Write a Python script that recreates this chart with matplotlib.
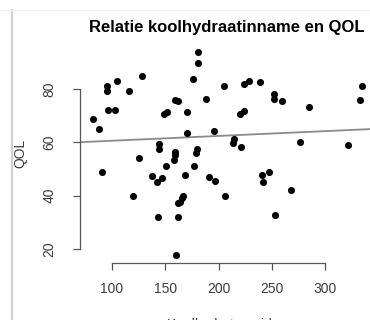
import matplotlib
matplotlib.use('Agg')
import matplotlib.pyplot as plt
import numpy as np

plt.rcParams['font.family'] = ['Liberation Sans', 'DejaVu Sans']

# koolhydraatinname (x) en QOL (y)
kh = [82.4, 88.1, 95.6, 95.6, 104.7, 96.5, 103.1, 90.6, 116.2, 127.9,
      119.9, 125.5, 137.1, 142.7, 147.2, 143.5, 144.4, 144.6, 148.8, 151.6,
      150.7, 158.2, 159.2, 159.2, 159.2, 162.3, 162.0, 163.4, 165.4, 166.9,
      162.0, 160.1, 168.8, 170.4, 170.4, 175.8, 180.5, 180.5, 177.3, 180.1,
      178.6, 188.7, 191.4, 197.0, 196.1, 206.1, 205.2, 213.6, 214.6, 220.2,
      223.5, 221.1, 224.2, 228.6, 238.7, 240.4, 241.8, 247.0, 252.8, 252.1,
      251.8, 259.6, 268.5, 276.5, 285.0, 321.9, 332.4, 335.0]
qol = [68.6, 64.9, 81.0, 79.3, 83.0, 72.3, 72.3, 48.7, 79.1, 84.9,
       39.7, 54.3, 47.4, 45.1, 46.6, 31.9, 59.3, 57.5, 70.5, 71.2,
       51.3, 53.2, 56.3, 55.3, 75.9, 75.5, 37.1, 37.7, 39.1, 40.0,
       32.1, 17.9, 47.6, 71.5, 63.6, 83.7, 93.8, 89.6, 51.1, 57.5,
       55.9, 76.4, 47.0, 45.6, 64.3, 39.9, 81.2, 59.9, 61.1, 70.8,
       71.6, 58.3, 81.8, 83.0, 82.7, 47.8, 45.3, 48.7, 32.8, 78.2,
       76.1, 75.5, 42.3, 60.2, 73.1, 58.9, 75.9, 81.1]

xticks = [100, 150, 200, 250, 300]
yticks = [20, 40, 60, 80]

# regressielijn zoals in de figuur (abline van lm)
intercept = 58.8
slope = 0.018

fig = plt.figure(figsize=(3.7, 3.2), dpi=100)
ax = fig.add_axes([0.2162, 0.1781, 0.7946, 0.6844])

ax.scatter(kh, qol, s=26, color='black', linewidths=0, zorder=3)
xx = np.array([60, 360])
ax.plot(xx, intercept + slope * xx, color='#8a8a8a', lw=1.3, zorder=2)

ax.set_xlim(69.95, 346.0)
ax.set_ylim(14.76, 96.87)

# R-achtige assen
for s in ['top', 'right']:
    ax.spines[s].set_visible(False)
ax.spines['bottom'].set_bounds(100, 300)
ax.spines['left'].set_bounds(20, 80)
for s in ['bottom', 'left']:
    ax.spines[s].set_color('#555555')
    ax.spines[s].set_linewidth(0.9)

ax.set_xticks(xticks)
ax.set_yticks(yticks)
ax.tick_params(axis='both', length=5, width=0.9, color='#555555',
               labelsize=10, labelcolor='#3c3c3c')
ax.tick_params(axis='x', pad=8.5)
ax.tick_params(axis='y', pad=12, labelrotation=90)
for lbl in ax.get_yticklabels():
    lbl.set_va('center')

ax.set_title('Relatie koolhydraatinname en QOL', fontsize=12,
             fontweight='bold', pad=8.5)
ax.set_ylabel('QOL', fontsize=10, color='#3c3c3c', ha='center', va='center')
ax.yaxis.set_label_coords(-0.204, 0.5)
ax.set_xlabel('Koolhydraten eiden', fontsize=10, color='#3c3c3c', va='top')
ax.xaxis.set_label_coords(0.5, -0.251)

# randen van het schermafdrukpaneel
fig.add_artist(plt.Line2D([12 / 370, 12 / 370], [0, 1 - 10 / 320],
                          transform=fig.transFigure, color='#cfcfcf', lw=1.5))
fig.add_artist(plt.Line2D([0, 1], [1 - 10 / 320, 1 - 10 / 320],
                          transform=fig.transFigure, color='#f0f0f0', lw=1.0))

fig.savefig('out.png', dpi=100)
